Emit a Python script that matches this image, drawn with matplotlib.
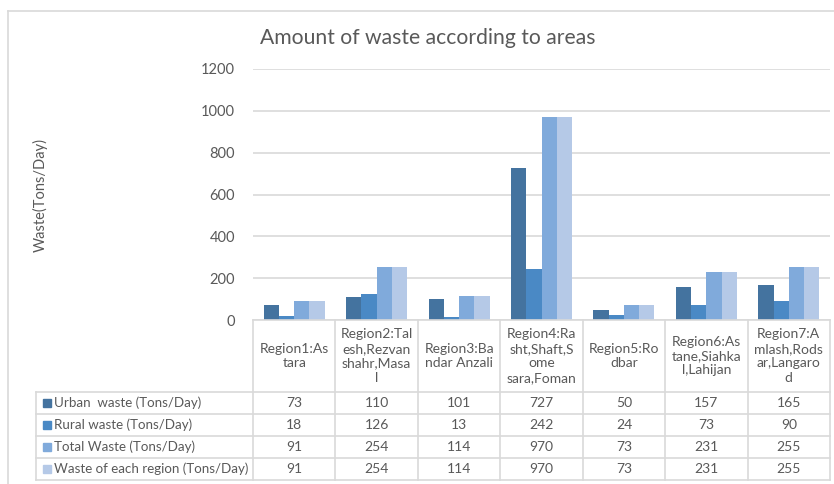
import numpy as np
import matplotlib
matplotlib.use("Agg")
from matplotlib import pyplot as plt
from matplotlib.transforms import blended_transform_factory
from matplotlib.lines import Line2D
from matplotlib.patches import Rectangle

plt.rcParams['font.family'] = ['Lato', 'DejaVu Sans']

# data
regions = ["Region1:As\ntara",
           "Region2:Tal\nesh,Rezvan\nshahr,Masa\nl",
           "Region3:Ba\nndar Anzali",
           "Region4:Ra\nsht,Shaft,S\nome\nsara,Foman",
           "Region5:Ro\ndbar",
           "Region6:As\ntane,Siahka\nl,Lahijan",
           "Region7:A\nmlash,Rods\nar,Langaro\nd"]
series_names = ["Urban  waste (Tons/Day)",
                "Rural waste (Tons/Day)",
                "Total Waste (Tons/Day)",
                "Waste of each region (Tons/Day)"]
urban = [73, 110, 101, 727, 50, 157, 165]
rural = [18, 126, 13, 242, 24, 73, 90]
total = [91, 254, 114, 970, 73, 231, 255]
each_region = [91, 254, 114, 970, 73, 231, 255]
values = [urban, rural, total, each_region]
colors = ["#44739f", "#4a89c5", "#80aadb", "#b5c9e7"]

W, H = 834, 484
fig = plt.figure(figsize=(W / 100, H / 100), dpi=100)

def fx(px):
    return px / W

def fy(py):
    return 1 - py / H

ax = fig.add_axes([fx(253), fy(320), fx(830) - fx(253), fy(69) - fy(320)])

x = np.arange(len(regions))
bw = 0.185
for k, (vals, c) in enumerate(zip(values, colors)):
    ax.bar(x + (k - 1.5) * bw, vals, width=bw, color=c, zorder=2)

ax.set_xlim(-0.5, len(regions) - 0.5)
ax.set_ylim(0, 1200)
ax.set_yticks(np.arange(0, 1201, 200))
ax.yaxis.grid(True, color="#d9d9d9", linewidth=1.2, zorder=0)
ax.set_xticks([])
for s in ax.spines.values():
    s.set_visible(False)
ax.tick_params(axis="y", length=0, pad=13, labelsize=10.5, labelcolor="#595959")

grey = "#595959"
line_c = "#d9d9d9"
fs = 9.6

fig.text(fx(428), fy(38), "Amount of waste according to areas",
         ha="center", va="center", fontsize=15.2, color=grey)
fig.text(fx(40), fy(195), "Waste(Tons/Day)", rotation=90,
         ha="center", va="center", fontsize=10.5, color=grey)

# outer chart border
fig.add_artist(Line2D([fx(8), 1], [fy(11), fy(11)], transform=fig.transFigure,
                      color=line_c, linewidth=1.2))
fig.add_artist(Line2D([fx(8), fx(8)], [fy(11), 0], transform=fig.transFigure,
                      color=line_c, linewidth=1.2))

# data table
tr = blended_transform_factory(ax.transData, fig.transFigure)
row_edges = [fy(320), fy(392), fy(414), fy(436), fy(458), fy(480)]
n = len(regions)

for i in range(n + 1):
    fig.add_artist(Line2D([i - 0.5, i - 0.5], [row_edges[0], row_edges[-1]],
                          transform=tr, color=line_c, linewidth=1.2))
fig.add_artist(Line2D([-0.5, n - 0.5], [row_edges[0], row_edges[0]],
                      transform=tr, color=line_c, linewidth=1.2))
for yv in row_edges[1:]:
    fig.add_artist(Line2D([fx(36), fx(830)], [yv, yv], transform=fig.transFigure,
                          color=line_c, linewidth=1.2))
fig.add_artist(Line2D([fx(36), fx(36)], [row_edges[1], row_edges[-1]],
                      transform=fig.transFigure, color=line_c, linewidth=1.2))

# header cells
for i, lab in enumerate(regions):
    fig.text(i, (row_edges[0] + row_edges[1]) / 2, lab, transform=tr,
             ha="center", va="center", fontsize=fs + 0.4, color=grey, linespacing=1.25)

# rows
for r, (name, vals, c) in enumerate(zip(series_names, values, colors)):
    yc = (row_edges[r + 1] + row_edges[r + 2]) / 2
    fig.add_artist(Rectangle((fx(43), yc - 0.5 * 8 / H), 8 / W, 8 / H,
                             transform=fig.transFigure, color=c))
    fig.text(fx(54), yc, name, ha="left", va="center", fontsize=fs, color=grey)
    for i, v in enumerate(vals):
        fig.text(i, yc, str(v), transform=tr, ha="center", va="center",
                 fontsize=fs + 0.4, color=grey)

fig.savefig("out.png", dpi=100, facecolor="white")
